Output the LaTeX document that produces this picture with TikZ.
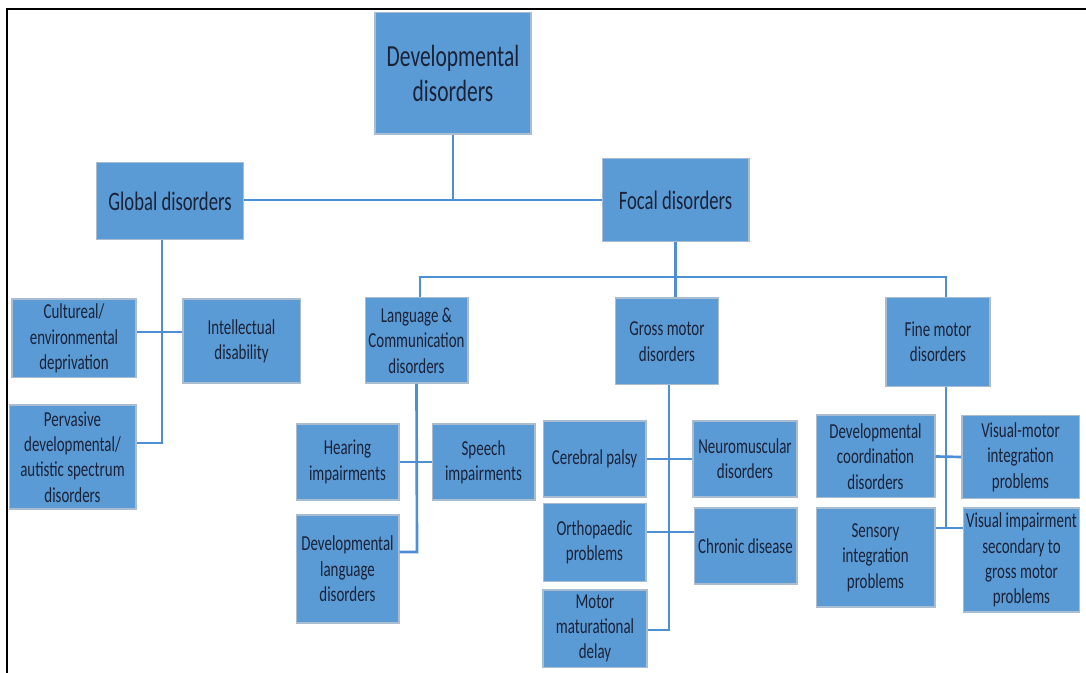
\documentclass[tikz,border=0pt]{standalone}
\usepackage{fontspec}
\setmainfont[FakeStretch=0.7]{Carlito}
\definecolor{boxblue}{HTML}{5B9BD5}
\definecolor{boxedge}{HTML}{A9BCD0}
\definecolor{linkblue}{HTML}{4E8FD3}
\definecolor{inkblue}{HTML}{1A2238}
\tikzset{
  box/.style={draw=boxedge, line width=1pt, fill=boxblue, text=inkblue,
    align=center, inner sep=2pt, font=\fontsize{16}{19}\selectfont},
  link/.style={draw=linkblue, line width=2pt},
  frame/.style={draw=black, line width=2.2pt}
}
\begin{document}
\begin{tikzpicture}[x=0.75pt, y=-0.75pt]
  \useasboundingbox (0,0) rectangle (1086,673);
  \draw[frame] (7,673) -- (7,9) -- (1086,9);

  % top levels
  \node[box, minimum width=117pt, minimum height=91pt, font=\fontsize{23}{26}\selectfont]
    (dev) at (453,73.5) {Developmental\\disorders};
  \node[box, minimum width=110pt, minimum height=58pt, font=\fontsize{20}{24}\selectfont]
    (glob) at (170,201) {Global disorders};
  \node[box, minimum width=110pt, minimum height=62pt, font=\fontsize{20}{24}\selectfont]
    (focal) at (675.5,200) {Focal disorders};

  % focal branches
  \node[box, minimum width=77pt, minimum height=64pt] (lang) at (416.5,340.5) {Language \&\\Communication\\disorders};
  \node[box, minimum width=77pt, minimum height=65pt] (gross) at (667,341.5) {Gross motor\\disorders};
  \node[box, minimum width=78pt, minimum height=67pt] (fine) at (938,342) {Fine motor\\disorders};

  % global children
  \node[box, minimum width=93pt, minimum height=59pt] (cult) at (74,338.5) {Cultureal/\\environmental\\deprivation};
  \node[box, minimum width=88pt, minimum height=63pt] (intel) at (241.5,341) {Intellectual\\disability};
  \node[box, minimum width=95pt, minimum height=78pt] (perv) at (72.5,457) {Pervasive\\developmental/\\autistic spectrum\\disorders};

  % language children
  \node[box, minimum width=77pt, minimum height=57pt] (hear) at (347.5,462) {Hearing\\impairments};
  \node[box, minimum width=77pt, minimum height=57pt] (speech) at (483.5,462) {Speech\\impairments};
  \node[box, minimum width=77pt, minimum height=81pt] (devlang) at (347.5,569) {Developmental\\language\\disorders};

  % gross motor children
  \node[box, minimum width=77pt, minimum height=57pt] (cp) at (594.5,459) {Cerebral palsy};
  \node[box, minimum width=78pt, minimum height=57pt] (neuro) at (745,459) {Neuromuscular\\disorders};
  \node[box, minimum width=77pt, minimum height=58pt] (ortho) at (594.5,542.5) {Orthopaedic\\problems};
  \node[box, minimum width=77pt, minimum height=57pt] (chronic) at (745.5,546) {Chronic disease};
  \node[box, minimum width=78pt, minimum height=58pt] (motor) at (595,628.5) {Motor\\maturational\\delay};

  % fine motor children
  \node[box, minimum width=89pt, minimum height=62pt] (dcd) at (875.5,456.5) {Developmental\\coordination\\disorders};
  \node[box, minimum width=88pt, minimum height=62pt] (vmi) at (1020.5,457) {Visual-motor\\integration\\problems};
  \node[box, minimum width=89pt, minimum height=74pt] (sens) at (875.5,557.5) {Sensory\\integration\\problems};
  \node[box, minimum width=86pt, minimum height=78pt] (visimp) at (1021.5,560) {Visual impairment\\secondary to\\gross motor\\problems};

  % bus points
  \coordinate (gmid) at (162,332);
  \coordinate (gbus) at (162,443);
  \coordinate (lbus) at (417,552);
  \coordinate (omid) at (669,532);
  \coordinate (mbus) at (669,630);
  \coordinate (fbus) at (946,528);
  \coordinate (lx) at (420,277);
  \coordinate (rx) at (946,277);

  \begin{scope}[link]
    \draw (dev.south) -- (dev.south |- focal.west);
    \draw (focal.west -| glob.east) -- (focal.west);
    \draw (focal.south) -- (focal.south |- gross.north);
    \draw (lx |- lang.north) -- (lx) -- (rx) -- (rx |- fine.north);
    \draw (glob.south -| gbus) -- (gbus) -- (gbus -| perv.east);
    \draw (gmid -| cult.east) -- (gmid -| intel.west);
    \draw (lang.south) -- (lbus) -- (lbus -| devlang.east);
    \draw (hear.east) -- (speech.west);
    \draw (gross.south -| mbus) -- (mbus) -- (mbus -| motor.east);
    \draw (cp.east) -- (neuro.west);
    \draw (omid -| ortho.east) -- (omid -| chronic.west);
    \draw (fine.south -| fbus) -- (fbus);
    \draw (fbus -| sens.east) -- (fbus -| visimp.west);
    \draw (dcd.east) -- (vmi.west);
  \end{scope}
\end{tikzpicture}
\end{document}
